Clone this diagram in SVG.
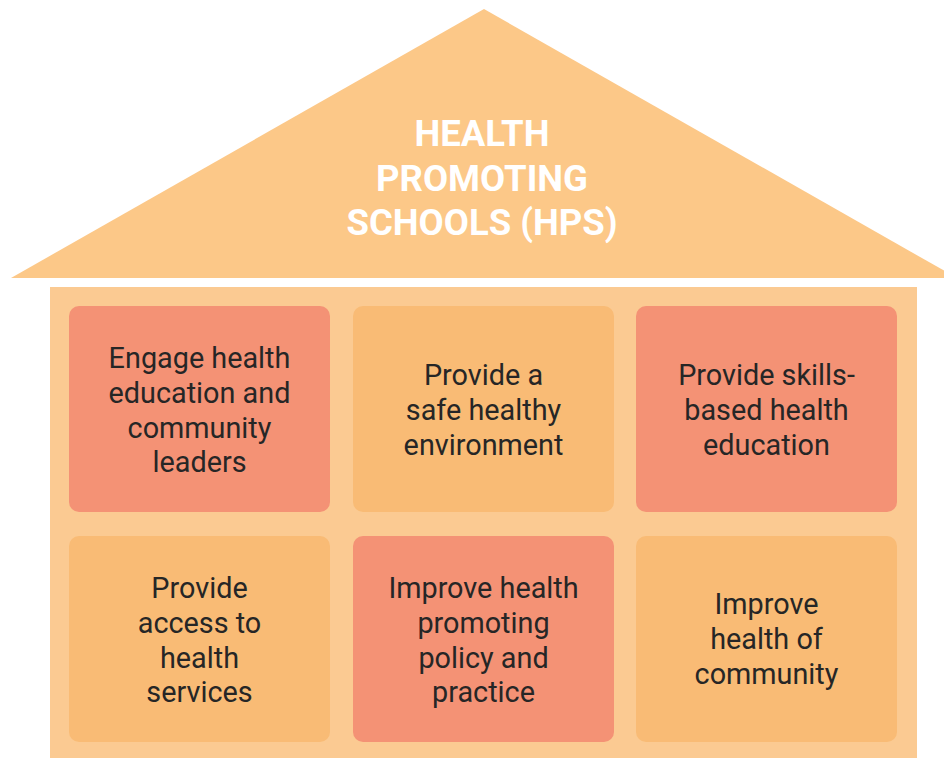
<svg xmlns="http://www.w3.org/2000/svg" width="944" height="758" viewBox="0 0 944 758">
<style>
.roof{fill:#FCC888}
.body{fill:#FBCA92}
.salmon{fill:#F49275}
.orange{fill:#F9BB75}
.title{font-family:Roboto,"Open Sans",sans-serif;font-weight:bold;font-size:36.5px;fill:#FFFFFF;text-anchor:middle}
.lbl{font-family:Roboto,"Open Sans",sans-serif;font-size:28.8px;fill:#262626;text-anchor:middle}
</style>
<rect width="944" height="758" fill="#FFFFFF"/>
<g id="roof">
<polygon class="roof" points="484,9 11,278 957,278"/>
<text class="title"><tspan x="482" y="146">HEALTH</tspan><tspan x="482" y="191">PROMOTING</tspan><tspan x="482" y="235">SCHOOLS (HPS)</tspan></text>
</g>
<g id="house-body">
<rect class="body" x="50" y="287" width="867" height="471"/>
</g>
<g id="node1">
<rect class="salmon" x="69" y="306" width="261" height="206" rx="10"/>
<text class="lbl"><tspan x="199.5" y="368">Engage health</tspan><tspan x="199.5" y="403">education and</tspan><tspan x="199.5" y="438">community</tspan><tspan x="199.5" y="472">leaders</tspan></text>
</g>
<g id="node2">
<rect class="orange" x="353" y="306" width="261" height="206" rx="10"/>
<text class="lbl"><tspan x="483.5" y="385">Provide a</tspan><tspan x="483.5" y="420">safe healthy</tspan><tspan x="483.5" y="455">environment</tspan></text>
</g>
<g id="node3">
<rect class="salmon" x="636" y="306" width="261" height="206" rx="10"/>
<text class="lbl"><tspan x="766.5" y="385">Provide skills-</tspan><tspan x="766.5" y="420">based health</tspan><tspan x="766.5" y="455">education</tspan></text>
</g>
<g id="node4">
<rect class="orange" x="69" y="536" width="261" height="206" rx="10"/>
<text class="lbl"><tspan x="199.5" y="598">Provide</tspan><tspan x="199.5" y="633">access to</tspan><tspan x="199.5" y="668">health</tspan><tspan x="199.5" y="702">services</tspan></text>
</g>
<g id="node5">
<rect class="salmon" x="353" y="536" width="261" height="206" rx="10"/>
<text class="lbl"><tspan x="483.5" y="598">Improve health</tspan><tspan x="483.5" y="633">promoting</tspan><tspan x="483.5" y="668">policy and</tspan><tspan x="483.5" y="702">practice</tspan></text>
</g>
<g id="node6">
<rect class="orange" x="636" y="536" width="261" height="206" rx="10"/>
<text class="lbl"><tspan x="766.5" y="614">Improve</tspan><tspan x="766.5" y="649">health of</tspan><tspan x="766.5" y="684">community</tspan></text>
</g>
<g id="connectors"/>
</svg>
